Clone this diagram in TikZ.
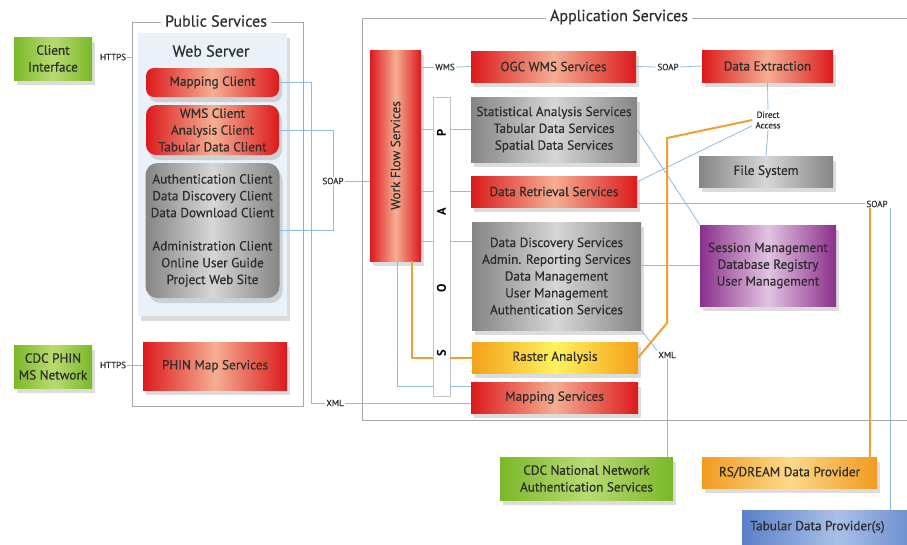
\documentclass[tikz,border=0pt]{standalone}
\usepackage{fontspec}
\setmainfont{PT Sans}
\newfontfamily\boxfont{PT Sans}[FakeBold=0.6]
\usetikzlibrary{shadows,calc}
\definecolor{txt}{HTML}{2E2E2E}
\definecolor{redE}{HTML}{DC1A1C}
\definecolor{redM}{HTML}{F5AE92}
\definecolor{grayE}{HTML}{858585}
\definecolor{grayM}{HTML}{D6D6D6}
\definecolor{greenE}{HTML}{7AB829}
\definecolor{greenM}{HTML}{B9DB70}
\definecolor{purE}{HTML}{8B2F8B}
\definecolor{purM}{HTML}{E2C3E2}
\definecolor{rasE}{HTML}{F5A01B}
\definecolor{rasM}{HTML}{FFF35C}
\definecolor{rsE}{HTML}{F29A1F}
\definecolor{rsM}{HTML}{FCD98A}
\definecolor{tabE}{HTML}{5A80C8}
\definecolor{tabM}{HTML}{A9C0E8}
\definecolor{panel}{HTML}{EAF1F8}
\definecolor{conn}{HTML}{8DBDE2}
\definecolor{orng}{HTML}{F0A032}
\definecolor{frm}{HTML}{A8A8A8}
\tikzset{
  box/.style={inner sep=0pt, align=center, text=txt,
    font=\boxfont\fontsize{13.2}{16.8}\selectfont,
    drop shadow={shadow xshift=3pt, shadow yshift=-5pt, opacity=0.28}},
  redbox/.style={box, left color=redE, right color=redE, middle color=redM},
  graybox/.style={box, left color=grayE, right color=grayE, middle color=grayM},
  greenbox/.style={box, left color=greenE, right color=greenE, middle color=greenM},
  purbox/.style={box, left color=purE, right color=purE, middle color=purM},
  rasbox/.style={box, left color=rasE, right color=rasE, middle color=rasM},
  rsbox/.style={box, left color=rsE, right color=rsE, middle color=rsM},
  tabbox/.style={box, left color=tabE, right color=tabE, middle color=tabM},
  lbl/.style={inner sep=1pt, text=txt, font=\boxfont\fontsize{9}{10.5}\selectfont, align=center},
  ttl/.style={fill=white, inner sep=4pt, text=txt, font=\boxfont\fontsize{16}{18}\selectfont},
  frame/.style={draw=frm, line width=0.8pt, inner sep=0pt},
  cn/.style={draw=conn, line width=0.8pt},
  oc/.style={draw=orng, line width=2pt},
  soapl/.style={rotate=90, inner sep=0pt, text=black, font=\bfseries\fontsize{12.5}{13}\selectfont}
}
\begin{document}
\begin{tikzpicture}[x=1pt,y=-1pt]
\useasboundingbox (0,0) rectangle (907,544);
\clip (0,0) rectangle (907,544);
% frames
\node[frame, minimum width=171pt, minimum height=384pt] (pubf) at (217.5,214) {};
\node[ttl] (pubt) at (216,21) {Public Services};
\coordinate (afr1) at (907,18);
\coordinate (afr2) at (362,18);
\coordinate (afr3) at (362,420);
\coordinate (afr4) at (907,420);
\draw[frm, line width=0.8pt] (afr1) -- (afr2) -- (afr3) -- (afr4);
\node[ttl] (appt) at (619,17) {Application Services};
% public services
\node[box, fill=panel, minimum width=149pt, minimum height=283pt] (wsp) at (212.5,174.5) {};
\node[inner sep=0pt, text=txt, font=\boxfont\fontsize{16}{18}\selectfont] (wst) at (211,51) {Web Server};
\node[redbox, rounded corners=8pt, minimum width=133pt, minimum height=29pt] (mapc) at (212.5,82.5) {Mapping Client};
\node[redbox, rounded corners=10pt, minimum width=133pt, minimum height=50pt] (wmsc) at (212.5,130) {WMS Client\\Analysis Client\\Tabular Data Client};
\node[graybox, rounded corners=12pt, minimum width=134pt, minimum height=135pt] (grayc) at (212.5,230.5) {Authentication Client\\Data Discovery Client\\Data Download Client\\[16.5pt]Administration Client\\Online User Guide\\Project Web Site};
\node[redbox, minimum width=144pt, minimum height=48pt] (phinmap) at (215,366) {PHIN Map Services};
\node[greenbox, minimum width=78pt, minimum height=43pt] (ci) at (53,58.5) {Client\\Interface};
\node[greenbox, minimum width=78pt, minimum height=43pt] (phin) at (53,366.5) {CDC PHIN\\MS Network};
\node[lbl] (https1) at (113,57) {HTTPS};
\node[lbl] (https2) at (113,365) {HTTPS};
% application services
\node[redbox, minimum width=51pt, minimum height=211pt] (wf) at (395.5,155.5) {};
\node[rotate=90, inner sep=0pt, text=txt, font=\boxfont\fontsize{13.2}{15}\selectfont] (wft) at (wf.center) {Work Flow Services};
\node[draw=frm!70, fill=white, line width=0.6pt, minimum width=17pt, minimum height=299pt, inner sep=0pt] (strip) at (441.5,246.5) {};
\node[soapl] (sp) at (441.5,133) {P};
\node[soapl] (sa) at (441.5,212) {A};
\node[soapl] (so) at (441.5,288) {O};
\node[soapl] (ss) at (441.5,353) {S};
\node[redbox, minimum width=165pt, minimum height=31pt] (ogc) at (553.5,66.5) {OGC WMS Services};
\node[graybox, minimum width=166pt, minimum height=65pt] (stat) at (554,129.5) {Statistical Analysis Services\\Tabular Data Services\\Spatial Data Services};
\node[redbox, minimum width=166pt, minimum height=31pt] (dret) at (554,191.5) {Data Retrieval Services};
\node[graybox, minimum width=169pt, minimum height=108pt] (ddisc) at (556.5,276) {Data Discovery Services\\Admin. Reporting Services\\Data Management\\User Management\\Authentication Services};
\node[rasbox, minimum width=166pt, minimum height=31pt] (raster) at (555,357.5) {Raster Analysis};
\node[redbox, minimum width=167pt, minimum height=31pt] (maps) at (554.5,397.5) {Mapping Services};
\node[redbox, minimum width=131pt, minimum height=32pt] (dext) at (767.5,66) {Data Extraction};
\node[graybox, minimum width=134pt, minimum height=31pt] (fsys) at (766,171.5) {File System};
\node[purbox, minimum width=136pt, minimum height=81pt] (sess) at (768,265.5) {Session Management\\Database Registry\\User Management};
\node[greenbox, minimum width=173pt, minimum height=43pt] (cdcn) at (586.5,478.5) {CDC National Network\\Authentication Services};
\node[rsbox, minimum width=175pt, minimum height=31pt] (rsd) at (789.5,472.5) {RS/DREAM Data Provider};
\node[tabbox, minimum width=190pt, minimum height=36pt] (tab) at (837,528) {};
\node[anchor=west, inner sep=0pt, text=txt, font=\boxfont\fontsize{13.2}{15}\selectfont] (tabt) at (750,527) {Tabular Data Provider(s)};
% labels
\node[lbl] (soap1) at (333,181) {SOAP};
\node[lbl] (wms) at (445,67) {WMS};
\node[lbl] (soap2) at (668,67) {SOAP};
\node[lbl] (dacc) at (768,120) {Direct\\Access};
\node[lbl] (soap3) at (877,204) {SOAP};
\node[lbl] (xml1) at (335,403) {XML};
\node[lbl] (xml2) at (667,355) {XML};
% coordinates
\coordinate (mcx) at (311,82.5);
\coordinate (mcy) at (311,403);
\coordinate (wmsx) at (333,130);
\coordinate (ddin) at ($(ddisc.north west)+(0,20)$);
\coordinate (wfo) at ($(wf.south)+(16.5,0)$);
\coordinate (wfb) at ($(wf.south)+(1.5,0)$);
\coordinate (mpin) at ($(maps.north west)+(0,5)$);
\coordinate (drs) at ($(dret.south east)+(0,-4)$);
\coordinate (drn) at ($(dret.north east)+(0,6)$);
\coordinate (tv) at ($(soap3.south)+(13,0)$);
\coordinate (ov) at ($(soap3.south)+(-7,0)$);
\coordinate (ob1) at (667,323);
\coordinate (ob2) at (667,138);
% connectors
\draw[cn] (https1.east) -- (https1.east -| pubf.west);
\draw[cn] (https2.east) -- (https2.east -| phinmap.west);
\draw[cn] (mapc.east) -- (mcx) -- (mcy) -- (xml1.west);
\draw[cn] (xml1.east) -- (xml1.east -| maps.west);
\draw[cn] (wmsc.east) -- (wmsx) -- (soap1.north);
\draw[cn] (soap1.south) |- (grayc.east);
\draw[cn] (soap1.east) -- (soap1.east -| wf.west);
\draw[cn] (wms.west -| wf.east) -- (wms.west);
\draw[cn] (wms.east) -- (ogc.west);
\draw[cn] (ogc.east) -- (soap2.west);
\draw[cn] (soap2.east) -- (dext.west);
\draw[cn] (dext.south) -- (dacc.north);
\draw[cn] (dacc.south) -- (fsys.north);
\draw[cn] (wf.east |- stat.west) -- (strip.west |- stat.west);
\draw[cn] (strip.east |- stat.west) -- (stat.west);
\draw[cn] (wf.east |- dret.west) -- (strip.west |- dret.west);
\draw[cn] (strip.east |- dret.west) -- (dret.west);
\draw[cn] (wf.east |- ddin) -- (strip.west |- ddin);
\draw[cn] (strip.east |- ddin) -- (ddin);
\draw[cn] (wfb) |- (strip.west |- mpin);
\draw[cn] (strip.east |- mpin) -- (mpin);
\draw[cn] (stat.east) -- (sess.north west);
\draw[cn] (drn) -- ($(dacc.south west)+(-2,-4)$);
\draw[cn] (drs) -- (drs -| soap3.west);
\draw[cn] (tv) -- (tv |- tab.north);
\draw[cn] (sess.west) -- (sess.west -| ddisc.east);
\draw[cn] (ddisc.south east) -- (xml2.north west);
\draw[cn] (xml2.south) -- (xml2.south |- cdcn.north);
\draw[oc] (wfo) |- (strip.west |- raster.west);
\draw[oc] (strip.east |- raster.west) -- (raster.west);
\draw[oc] (raster.east) -- (ob1) -- (ob2) -- ($(dacc.west)+(-2,0)$);
\draw[oc] (ov) -- (ov |- rsd.north);
\end{tikzpicture}
\end{document}
